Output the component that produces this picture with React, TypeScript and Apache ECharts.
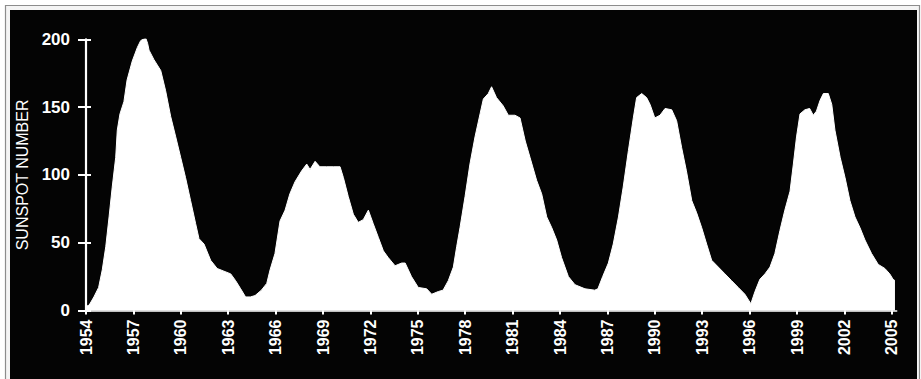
import React, { useEffect, useRef } from 'react';
import * as echarts from 'echarts';

// Sunspot number readings (decimal year, value)
const years = [
  1954.0, 1954.2, 1954.5, 1954.8, 1955.03, 1955.25, 1955.46, 1955.66, 1955.88, 1955.98,
  1956.15, 1956.4, 1956.6, 1956.93, 1957.25, 1957.46, 1957.6, 1957.78, 1957.9, 1957.99,
  1958.3, 1958.73, 1959.04, 1959.36, 1959.68, 1959.99, 1960.3, 1960.62, 1960.94, 1961.15,
  1961.47, 1961.89, 1962.3, 1962.73, 1963.16, 1963.47, 1963.79, 1964.1, 1964.4, 1964.7,
  1965.1, 1965.44, 1965.65, 1965.96, 1966.28, 1966.6, 1966.9, 1967.23, 1967.65, 1967.97,
  1968.18, 1968.5, 1968.8, 1969.23, 1969.65, 1970.08, 1970.29, 1970.6, 1970.92, 1971.23,
  1971.55, 1971.87, 1972.18, 1972.5, 1972.82, 1973.13, 1973.56, 1973.98, 1974.2, 1974.6,
  1975.03, 1975.56, 1975.88, 1976.3, 1976.6, 1976.93, 1977.25, 1977.46, 1977.67, 1977.99,
  1978.3, 1978.62, 1978.94, 1979.15, 1979.46, 1979.67, 1979.98, 1980.4, 1980.73, 1981.15,
  1981.47, 1981.8, 1982.1, 1982.52, 1982.84, 1983.16, 1983.48, 1983.79, 1984.1, 1984.53,
  1984.95, 1985.58, 1986.2, 1986.4, 1986.7, 1987.06, 1987.37, 1987.7, 1988.0, 1988.33,
  1988.64, 1988.85, 1989.17, 1989.48, 1989.7, 1990.0, 1990.33, 1990.65, 1991.07, 1991.38,
  1991.7, 1992.0, 1992.34, 1992.65, 1992.97, 1993.28, 1993.6, 1994.02, 1994.44, 1994.86,
  1995.28, 1995.7, 1996.08, 1996.34, 1996.65, 1996.97, 1997.29, 1997.6, 1997.92, 1998.23,
  1998.56, 1998.77, 1998.97, 1999.19, 1999.5, 1999.8, 2000.03, 2000.23, 2000.46, 2000.67,
  2000.98, 2001.2, 2001.4, 2001.73, 2002.04, 2002.35, 2002.67, 2002.99, 2003.3, 2003.72,
  2004.14, 2004.56, 2004.87, 2005.08, 2005.2,
];

const sunspots = [
  3, 4, 10, 17, 30, 47, 69, 91, 113, 133,
  145, 154, 170, 184, 194, 199, 200, 201, 197, 192,
  185, 177, 162, 143, 128, 113, 98, 81, 64, 53,
  49, 37, 31, 29, 27, 22, 16, 10, 10, 11,
  15, 20, 30, 42, 66, 74, 86, 95, 103, 108,
  104, 110, 106, 106, 106, 106, 98, 84, 71, 65,
  67, 74, 64, 54, 44, 39, 33, 35, 35, 25,
  17, 16, 12, 14, 15, 22, 32, 47, 61, 84,
  108, 128, 145, 156, 160, 165, 157, 151, 144, 144,
  142, 125, 113, 96, 86, 69, 61, 52, 39, 25,
  19, 16, 15, 16, 25, 35, 49, 69, 91, 118,
  142, 157, 160, 157, 152, 142, 144, 149, 148, 140,
  120, 103, 81, 72, 61, 49, 37, 32, 27, 22,
  17, 12, 5, 14, 23, 27, 32, 42, 59, 74,
  88, 108, 128, 145, 148, 149, 144, 147, 155, 160,
  160, 152, 133, 113, 98, 81, 69, 61, 52, 42,
  34, 31, 27, 23, 22,
];

const xTickYears = [
  1954, 1957, 1960, 1963, 1966, 1969, 1972, 1975, 1978, 1981,
  1984, 1987, 1990, 1993, 1996, 1999, 2002, 2005,
];
const yTicks = [0, 50, 100, 150, 200];
const yAxisTitle = 'SUNSPOT NUMBER';

const FONT = "'Liberation Sans', Arial, sans-serif";

export default function App() {
  const ref = useRef<HTMLDivElement>(null);

  useEffect(() => {
    if (!ref.current) return;
    const chart = echarts.init(ref.current, null, { renderer: 'svg' });
    const data = years.map((y, i) => [y, sunspots[i]]);

    chart.setOption({
      animation: false,
      backgroundColor: '#ffffff',
      graphic: [
        {
          type: 'rect',
          z: -20,
          silent: true,
          shape: { x: 5.5, y: 5.5, width: 914, height: 380 },
          style: { fill: '#f4f4f4', stroke: '#8c8c8c', lineWidth: 1.2 },
        },
        {
          type: 'rect',
          z: -19,
          silent: true,
          shape: { x: 10, y: 10, width: 907, height: 375 },
          style: { fill: '#040404' },
        },
      ],
      grid: { left: 86, right: 24.3, top: 39.3, bottom: 68.5, containLabel: false },
      xAxis: {
        type: 'value',
        min: 1954,
        max: 2005.31,
        splitLine: { show: false },
        axisLine: { show: true, lineStyle: { color: '#ffffff', width: 1.5 } },
        axisTick: {
          show: true,
          customValues: xTickYears,
          length: 4,
          lineStyle: { color: '#ffffff', width: 2 },
        },
        axisLabel: {
          customValues: xTickYears,
          rotate: 90,
          margin: 9,
          color: '#ffffff',
          fontFamily: FONT,
          fontWeight: 'bold',
          fontSize: 16,
          formatter: (v: number) => String(Math.round(v)),
        },
      },
      yAxis: [
        {
          type: 'value',
          min: yTicks[0],
          max: yTicks[yTicks.length - 1],
          interval: 50,
          name: yAxisTitle,
          nameLocation: 'middle',
          nameRotate: 90,
          nameGap: 49,
          nameTextStyle: { color: '#ffffff', fontFamily: FONT, fontSize: 16 },
          splitLine: { show: false },
          axisLine: { show: true, lineStyle: { color: '#ffffff', width: 2.2 } },
          axisTick: { show: true, length: 8, lineStyle: { color: '#ffffff', width: 2 } },
          axisLabel: {
            color: '#ffffff',
            margin: 16,
            fontFamily: FONT,
            fontWeight: 'bold',
            fontSize: 17,
          },
        },
        {
          type: 'value',
          position: 'left',
          min: yTicks[0],
          max: yTicks[yTicks.length - 1],
          interval: 50,
          splitLine: { show: false },
          axisLine: { show: false },
          axisTick: { show: true, inside: true, length: 5, lineStyle: { color: '#ffffff', width: 2 } },
          axisLabel: { show: false },
        },
      ],
      series: [
        {
          type: 'line',
          yAxisIndex: 0,
          data,
          showSymbol: false,
          symbol: 'none',
          lineStyle: { color: '#ffffff', width: 1 },
          areaStyle: { color: '#ffffff', opacity: 1 },
          z: 3,
        },
      ],
    });

    return () => chart.dispose();
  }, []);

  return (
    <div
      ref={ref}
      style={{ position: 'fixed', left: 0, top: 0, width: 921, height: 379 }}
    />
  );
}
